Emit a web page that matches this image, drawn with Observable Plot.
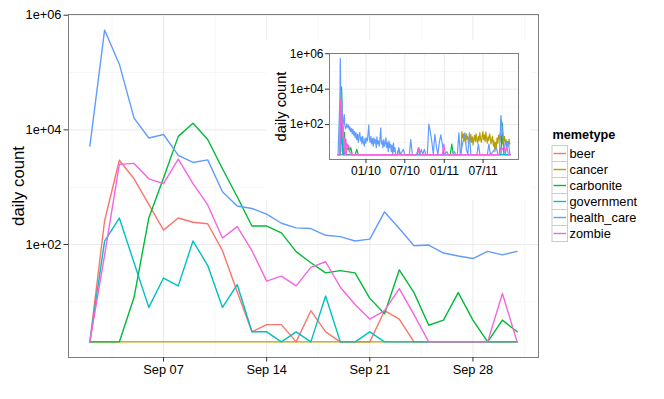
<!DOCTYPE html>
<html><head><meta charset="utf-8">
<script src="https://cdn.jsdelivr.net/npm/d3@7"></script>
<script src="https://cdn.jsdelivr.net/npm/@observablehq/plot@0.6"></script>
<style>
html,body{margin:0;padding:0;background:#fff;overflow:hidden;}
#wrap{position:relative;width:664px;height:399px;font-family:"Liberation Sans",Arial,Helvetica,sans-serif;}
#wrap svg{position:absolute;}
</style></head>
<body><div id="wrap"></div>
<script>
// ---------- data ----------
const memetypes = ["beer", "cancer", "carbonite", "government", "health_care", "zombie"];
const colors = ["#F8766D", "#B79F00", "#00BA38", "#00BFC4", "#619CFF", "#F564E3"];

// main chart: daily counts from 2009-09-02 to 2009-10-01
const mainStart = "2009-09-02";
const beer        = [2, 260, 2950, 1400, 500, 178, 290, 245, 230, 78, 15, 3, 4, 4, 2, 7, 3, 2, 2, 2, 7, 5, 2, 2, 2, 2, 2, 2, 2, 2];
const cancer      = [2, 2, 2, 2, 2, 2, 2, 2, 2, 2, 2, 2, 2, 2, 2, 2, 2, 2, 2, 2, 2, 2, 2, 2, 2, 2, 2, 2, 2, 2];
const carbonite   = [2, 2, 2, 12, 290, 1450, 7700, 13000, 6800, 2100, 680, 210, 210, 160, 75, 48, 32, 35, 32, 11.5, 6.2, 36, 14.5, 3.9, 4.8, 14.5, 4.8, 2, 4.8, 3];
const government  = [2, 115, 290, 48, 8, 26, 19, 115, 43, 8, 20, 3, 3, 2, 3, 2, 12.6, 2, 2, 3, 2, 2, 2, 2, 2, 2, 2, 2, 2, 2];
const health_care = [5200, 550000, 140000, 16000, 7200, 8300, 3600, 2700, 3000, 830, 470, 425, 340, 235, 195, 190, 145, 137, 115, 124, 370, 190, 95, 98, 71, 63, 57, 76, 66, 76];
const zombie      = [2, 65, 2500, 2600, 1400, 1150, 3100, 1150, 490, 130, 205, 78, 23, 28, 19, 40, 50, 18, 9, 5, 7, 17, 6, 2, 2, 2, 2, 2, 14, 2];

const yTicks = [1e2, 1e4, 1e6];
const xTicks = ["2009-09-07", "2009-09-14", "2009-09-21", "2009-09-28"];

// inset: extra points outside the main window
const beerInset = [["2009-08-24", 2], ["2011-11-03", 2]];
const governmentInset = [["2009-08-24", 2], ["2011-11-03", 2]];
const cancerInset = [["2009-08-24", 2], ["2011-03-20", 2], ["2011-03-24", 40], ["2011-03-27", 18], ["2011-03-31", 30], ["2011-04-03", 12], ["2011-04-07", 25], ["2011-04-10", 9], ["2011-04-14", 30], ["2011-04-17", 15], ["2011-04-21", 22], ["2011-04-24", 8], ["2011-04-28", 18], ["2011-05-01", 12], ["2011-05-05", 28], ["2011-05-08", 10], ["2011-05-12", 20], ["2011-05-15", 7], ["2011-05-19", 16], ["2011-05-22", 25], ["2011-05-26", 11], ["2011-05-29", 30], ["2011-06-02", 14], ["2011-06-05", 9], ["2011-06-09", 22], ["2011-06-12", 12], ["2011-06-16", 35], ["2011-06-19", 15], ["2011-06-23", 10], ["2011-06-26", 20], ["2011-06-30", 40], ["2011-07-03", 14], ["2011-07-07", 26], ["2011-07-10", 11], ["2011-07-14", 38], ["2011-07-17", 16], ["2011-07-21", 9], ["2011-07-24", 20], ["2011-07-28", 13], ["2011-07-31", 30], ["2011-08-04", 18], ["2011-08-07", 8], ["2011-08-11", 14], ["2011-08-14", 22], ["2011-08-18", 6], ["2011-08-21", 12], ["2011-08-25", 3], ["2011-08-28", 10], ["2011-09-01", 5], ["2011-09-04", 18], ["2011-09-08", 9], ["2011-09-11", 25], ["2011-09-15", 14], ["2011-09-18", 30], ["2011-09-22", 11], ["2011-09-25", 20], ["2011-09-29", 8], ["2011-10-02", 16], ["2011-10-06", 12], ["2011-10-09", 22], ["2011-10-13", 7], ["2011-10-16", 14], ["2011-10-20", 4], ["2011-10-23", 10], ["2011-10-27", 6], ["2011-10-30", 15], ["2011-11-03", 8]];
const carboniteInset = [["2009-08-24", 2], ["2009-10-05", 8], ["2009-10-08", 4], ["2009-10-12", 6], ["2009-10-15", 3], ["2009-10-22", 5], ["2009-10-29", 2], ["2009-11-12", 2], ["2009-11-19", 4], ["2009-11-26", 2], ["2010-05-27", 2], ["2010-06-03", 4], ["2010-06-10", 2], ["2010-08-26", 2], ["2010-09-02", 4], ["2010-09-09", 2], ["2011-01-29", 2], ["2011-02-05", 8], ["2011-02-12", 2], ["2011-09-22", 2], ["2011-09-29", 120], ["2011-10-06", 2], ["2011-11-03", 2]];
const healthCareInset = [["2009-08-24", 2], ["2009-10-04", 110], ["2009-10-08", 70], ["2009-10-11", 95], ["2009-10-15", 50], ["2009-10-18", 75], ["2009-10-22", 40], ["2009-10-25", 60], ["2009-10-29", 30], ["2009-11-01", 55], ["2009-11-05", 25], ["2009-11-08", 40], ["2009-11-12", 18], ["2009-11-15", 35], ["2009-11-19", 14], ["2009-11-22", 28], ["2009-11-26", 10], ["2009-11-29", 24], ["2009-12-03", 35], ["2009-12-06", 12], ["2009-12-10", 20], ["2009-12-13", 8], ["2009-12-17", 22], ["2009-12-20", 10], ["2009-12-24", 6], ["2009-12-27", 16], ["2009-12-31", 9], ["2010-01-03", 18], ["2010-01-07", 12], ["2010-01-10", 25], ["2010-01-14", 95], ["2010-01-17", 15], ["2010-01-21", 10], ["2010-01-24", 22], ["2010-01-28", 8], ["2010-01-31", 16], ["2010-02-04", 6], ["2010-02-07", 18], ["2010-02-11", 9], ["2010-02-14", 14], ["2010-02-18", 5], ["2010-02-21", 20], ["2010-02-25", 8], ["2010-02-28", 12], ["2010-03-04", 6], ["2010-03-07", 15], ["2010-03-11", 65], ["2010-03-14", 8], ["2010-03-18", 12], ["2010-03-21", 5], ["2010-03-25", 14], ["2010-03-28", 6], ["2010-04-01", 9], ["2010-04-04", 18], ["2010-04-08", 5], ["2010-04-11", 10], ["2010-04-15", 3], ["2010-04-18", 12], ["2010-04-22", 5], ["2010-04-25", 8], ["2010-04-29", 3], ["2010-05-02", 7], ["2010-05-06", 2], ["2010-05-09", 9], ["2010-05-13", 3], ["2010-05-16", 5], ["2010-05-20", 2], ["2010-05-27", 2], ["2010-06-03", 5], ["2010-06-10", 2], ["2010-06-24", 4], ["2010-07-01", 2], ["2010-07-22", 2], ["2010-07-29", 14], ["2010-08-05", 2], ["2010-08-26", 2], ["2010-09-02", 5], ["2010-09-09", 2], ["2010-09-16", 4], ["2010-09-23", 2], ["2010-09-30", 4], ["2010-10-07", 2], ["2010-10-14", 2], ["2010-10-21", 107], ["2010-10-28", 39], ["2010-11-04", 11], ["2010-11-11", 2], ["2010-11-18", 28], ["2010-11-25", 6], ["2010-12-02", 2], ["2010-12-09", 10], ["2010-12-16", 26], ["2010-12-23", 8], ["2010-12-30", 2], ["2011-01-13", 3], ["2011-01-20", 2], ["2011-02-10", 2], ["2011-02-17", 3], ["2011-02-24", 2], ["2011-03-03", 2], ["2011-03-10", 34], ["2011-03-17", 2], ["2011-04-07", 34], ["2011-04-14", 4], ["2011-04-21", 2], ["2011-04-28", 34], ["2011-05-05", 2], ["2011-06-02", 2], ["2011-06-09", 8], ["2011-06-16", 2], ["2011-07-21", 2], ["2011-07-28", 8], ["2011-08-04", 2], ["2011-09-01", 5], ["2011-09-08", 2], ["2011-09-15", 2], ["2011-09-22", 320], ["2011-09-29", 42], ["2011-10-06", 8], ["2011-10-13", 2], ["2011-10-20", 11], ["2011-10-27", 11], ["2011-11-03", 2]];
const zombieInset = [["2009-08-24", 2], ["2009-10-05", 8], ["2009-10-08", 5], ["2009-10-12", 7], ["2009-10-15", 4], ["2009-10-22", 2], ["2010-08-29", 2], ["2010-09-05", 5], ["2010-09-12", 2], ["2010-12-23", 2], ["2010-12-30", 8], ["2011-01-06", 2], ["2011-09-15", 2], ["2011-09-22", 5], ["2011-09-29", 4], ["2011-10-06", 6], ["2011-10-13", 3], ["2011-10-20", 5], ["2011-10-27", 2], ["2011-11-03", 2]];
const insetXTicks = ["2010-01-01", "2010-07-01", "2011-01-01", "2011-07-01"];

// ---------- build tables ----------
const FONT = '"Liberation Sans", Arial, Helvetica, sans-serif';
const parse = d3.utcParse("%Y-%m-%d");
const DAY = 864e5;
const start = parse(mainStart);
const mainSeries = {beer, cancer, carbonite, government, health_care, zombie};
const insetExtra = {beer: beerInset, cancer: cancerInset, carbonite: carboniteInset, government: governmentInset, health_care: healthCareInset, zombie: zombieInset};

const mainData = memetypes.flatMap(m => mainSeries[m].map((v, i) => ({memetype: m, date: new Date(+start + i * DAY), value: v})));
const insetData = memetypes.flatMap(m => {
  const pts = mainSeries[m].map((v, i) => ({memetype: m, date: new Date(+start + i * DAY), value: v}))
    .concat(insetExtra[m].map(([d, v]) => ({memetype: m, date: parse(d), value: v})));
  return pts.sort((a, b) => a.date - b.date);
});

function expand([lo, hi]) { const p = (hi - lo) * 0.05; return [lo - p, hi + p]; }
const yFmt = v => "1e+" + String(Math.round(Math.log10(v))).padStart(2, "0");
const yMinor = yTicks.map(v => v / 10);

function domains(data) {
  const xd = expand(d3.extent(data, d => +d.date)).map(t => new Date(t));
  const yd = expand(d3.extent(data, d => Math.log10(d.value))).map(v => 10 ** v);
  return [xd, yd];
}
function minorX(ticks) {
  const t = ticks.map(d => +d);
  const mids = [];
  mids.push(t[0] - (t[1] - t[0]) / 2);
  for (let i = 0; i < t.length - 1; i++) mids.push((t[i] + t[i + 1]) / 2);
  mids.push(t[t.length - 1] + (t[t.length - 1] - t[t.length - 2]) / 2);
  return mids.map(v => new Date(v));
}

const wrap = document.getElementById("wrap");

// ---------- main chart ----------
const [mxDom, myDom] = domains(mainData);
const mxTicks = xTicks.map(parse);
const main = Plot.plot({
  width: 664, height: 399,
  marginLeft: 68, marginRight: 126, marginTop: 14, marginBottom: 42,
  style: {fontFamily: FONT, fontSize: "12.8px", color: "#000", background: "white", overflow: "visible"},
  x: {type: "utc", domain: mxDom},
  y: {type: "log", domain: myDom},
  color: {domain: memetypes, range: colors},
  marks: [
    Plot.ruleY(yMinor, {stroke: "#F7F7F7"}),
    Plot.ruleX(minorX(mxTicks).filter(d => d >= mxDom[0] && d <= mxDom[1]), {stroke: "#F7F7F7"}),
    Plot.ruleY(yTicks, {stroke: "#EBEBEB"}),
    Plot.ruleX(mxTicks, {stroke: "#EBEBEB"}),
    Plot.line(mainData, {x: "date", y: "value", z: "memetype", stroke: "memetype", strokeWidth: 1.4}),
    Plot.frame({stroke: "#7F7F7F"}),
    Plot.axisY(yTicks, {tickFormat: yFmt, tickSize: 4.5, tickPadding: 2.5, label: null, stroke: "#333", fontSize: 12.8}),
    Plot.axisX(mxTicks, {tickFormat: d3.utcFormat("%b %d"), tickSize: 4.5, tickPadding: 3, label: null, stroke: "#333", fontSize: 12.8}),
    Plot.text(["daily count"], {text: d => d, frameAnchor: "left", textAnchor: "middle", dx: -50, rotate: -90, fontSize: 16.7})
  ]
});
main.style.left = "0px"; main.style.top = "0px";
wrap.appendChild(main);

// ---------- legend ----------
const leg = d3.select(wrap).append("svg")
  .attr("width", 116).attr("height", 130)
  .style("left", "548px").style("top", "124px")
  .style("font-family", FONT);
leg.append("text").attr("x", 4.5).attr("y", 15).attr("font-size", 12.7).attr("font-weight", "bold").text("memetype");
memetypes.forEach((m, i) => {
  const y0 = 21.5 + i * 16;
  leg.append("rect").attr("x", 4).attr("y", y0).attr("width", 15.5).attr("height", 16)
    .attr("fill", "white").attr("stroke", "#CCCCCC").attr("stroke-width", 1);
  leg.append("line").attr("x1", 5.5).attr("x2", 18).attr("y1", y0 + 8).attr("y2", y0 + 8)
    .attr("stroke", colors[i]).attr("stroke-width", 1.4);
  leg.append("text").attr("x", 21.5).attr("y", y0 + 8).attr("dy", "0.36em").attr("font-size", 12.8).text(m);
});

// ---------- inset ----------
const [ixDom, iyDom] = domains(insetData);
const ixTicks = insetXTicks.map(parse);
const inset = Plot.plot({
  width: 265, height: 160,
  marginLeft: 63, marginRight: 13, marginTop: 13, marginBottom: 41,
  style: {fontFamily: FONT, fontSize: "12px", color: "#000", background: "white", overflow: "visible"},
  x: {type: "utc", domain: ixDom},
  y: {type: "log", domain: iyDom},
  color: {domain: memetypes, range: colors},
  marks: [
    Plot.ruleY(yMinor, {stroke: "#F7F7F7"}),
    Plot.ruleX(minorX(ixTicks).filter(d => d >= ixDom[0] && d <= ixDom[1]), {stroke: "#F7F7F7"}),
    Plot.ruleY(yTicks, {stroke: "#EBEBEB"}),
    Plot.ruleX(ixTicks, {stroke: "#EBEBEB"}),
    Plot.line(insetData, {x: "date", y: "value", z: "memetype", stroke: "memetype", strokeWidth: 1.2}),
    Plot.frame({stroke: "#7F7F7F"}),
    Plot.axisY(yTicks, {tickFormat: yFmt, tickSize: 4, tickPadding: 2, label: null, stroke: "#333", fontSize: 12}),
    Plot.axisX(ixTicks, {tickFormat: d3.utcFormat("%m/%y"), tickSize: 4, tickPadding: 3, label: null, stroke: "#333", fontSize: 12}),
    Plot.text(["daily count"], {text: d => d, frameAnchor: "left", textAnchor: "middle", dx: -48, rotate: -90, fontSize: 14.6})
  ]
});
inset.style.left = "266px"; inset.style.top = "40px";
wrap.appendChild(inset);
</script>
</body></html>
